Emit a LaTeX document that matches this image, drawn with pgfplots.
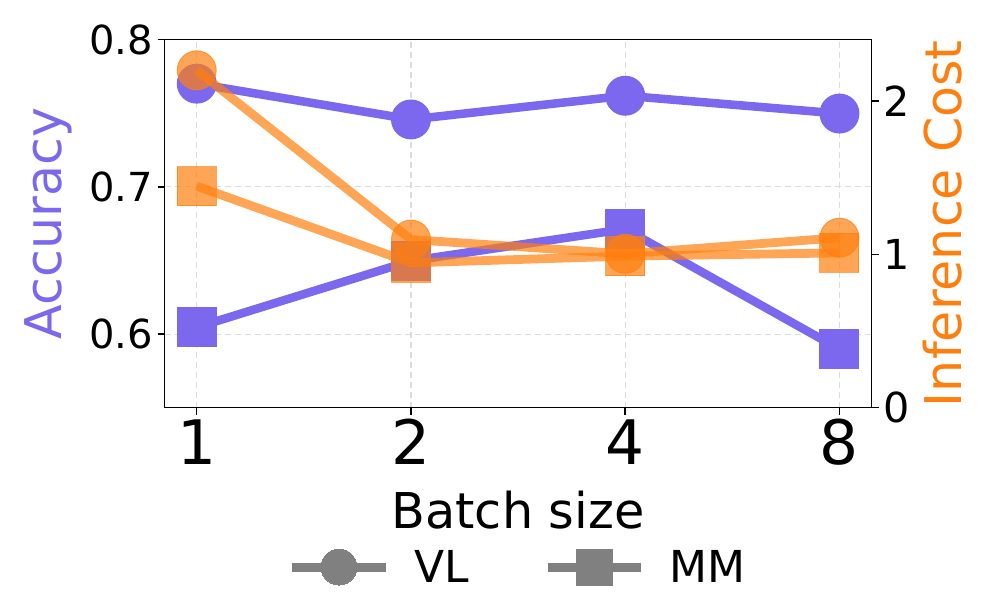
\documentclass[border=0pt]{standalone}
\usepackage{pgfplots}
\pgfplotsset{compat=1.18}
\usepackage{fontspec}
\setmainfont{DejaVu Sans}

\definecolor{vlpurple}{HTML}{7B68EE}
\definecolor{costorange}{HTML}{FF7F0E}
\definecolor{gridgray}{HTML}{DCDCDC}

% 1 px of the reference = 0.75pt here
\pgfplotsset{
  twin/.style={
    scale only axis, width=530.25pt, height=276.2pt,
    xmin=-0.15, xmax=3.15,
    tick align=outside, major tick length=5.25pt,
    axis line style={line width=1.1pt},
    tick style={line width=1.1pt, black},
    /pgf/number format/assume math mode=true,
  },
}

\begin{document}
\begin{tikzpicture}
\begin{axis}[
  twin, name=acc,
  ymin=0.55, ymax=0.8,
  xtick={0,1,2,3}, xticklabels={1,2,4,8},
  ytick={0.6,0.7,0.8},
  xtick pos=bottom, ytick pos=left,
  grid=major,
  major grid style={gridgray, line width=0.8pt, dash pattern=on 4.5pt off 3pt},
  xticklabel style={font=\fontsize{46}{50}\selectfont},
  yticklabel style={font=\fontsize{30}{34}\selectfont},
  xlabel={Batch size},
  xlabel style={font=\fontsize{37}{42}\selectfont, at={(axis description cs:0.5,-0.277)}, anchor=center},
  ylabel={Accuracy},
  ylabel style={font=\fontsize{38}{42}\selectfont, text=vlpurple, at={(axis description cs:-0.164,0.5)}, anchor=center},
  legend image code/.code={\draw[mark repeat=2,mark phase=2,#1] plot coordinates {(0pt,0pt) (35pt,0pt) (70pt,0pt)};},
  legend style={at={(0.5,-0.4325)}, anchor=center, draw=none, fill=none,
    font=\fontsize{33}{36}\selectfont,
    /tikz/every odd column/.append style={column sep=16pt},
    /tikz/every even column/.append style={column sep=54pt}},
  legend columns=2,
]
\addlegendimage{gray, line width=6.75pt, mark=*, mark size=13.5pt, mark options={line width=0pt}}
\addlegendentry{VL}
\addlegendimage{gray, line width=6.75pt, mark=square*, mark size=13.5pt, mark options={line width=0pt}}
\addlegendentry{MM}

% accuracy, VL
\addplot[vlpurple, line width=6.4pt, mark=*, mark size=14.6pt, mark options={line width=0.75pt}, forget plot]
  coordinates {(0,0.770) (1,0.7457) (2,0.7618) (3,0.7497)};
% accuracy, MM
\addplot[vlpurple, line width=6.4pt, mark=square*, mark size=14.6pt, mark options={line width=0.75pt}, forget plot]
  coordinates {(0,0.6046) (1,0.6497) (2,0.6713) (3,0.5898)};
\end{axis}

\begin{axis}[
  twin,
  ymin=0, ymax=2.4,
  axis x line=none, axis y line*=right,
  tick align=outside,
  ytick={0,1,2},
  yticklabel style={font=\fontsize{31}{35}\selectfont},
  ylabel={Inference Cost},
  ylabel style={font=\fontsize{38}{42}\selectfont, text=costorange, at={(axis description cs:1.100,0.5)}, anchor=center},
]
% inference cost, VL
\addplot[costorange, opacity=0.7, line width=6.6pt, mark=*, mark size=14.6pt, mark options={line width=0.75pt, opacity=0.7}]
  coordinates {(0,2.199) (1,1.096) (2,1.003) (3,1.108)};
% inference cost, MM
\addplot[costorange, opacity=0.7, line width=6.6pt, mark=square*, mark size=14.6pt, mark options={line width=0.75pt, opacity=0.7}]
  coordinates {(0,1.444) (1,0.944) (2,0.988) (3,1.009)};
\end{axis}

\pgfresetboundingbox
\path[use as bounding box] ([shift={(-123.45pt,-154pt)}]acc.south west) rectangle ([shift={(624.3pt,305.8pt)}]acc.south west);
\end{tikzpicture}
\end{document}
